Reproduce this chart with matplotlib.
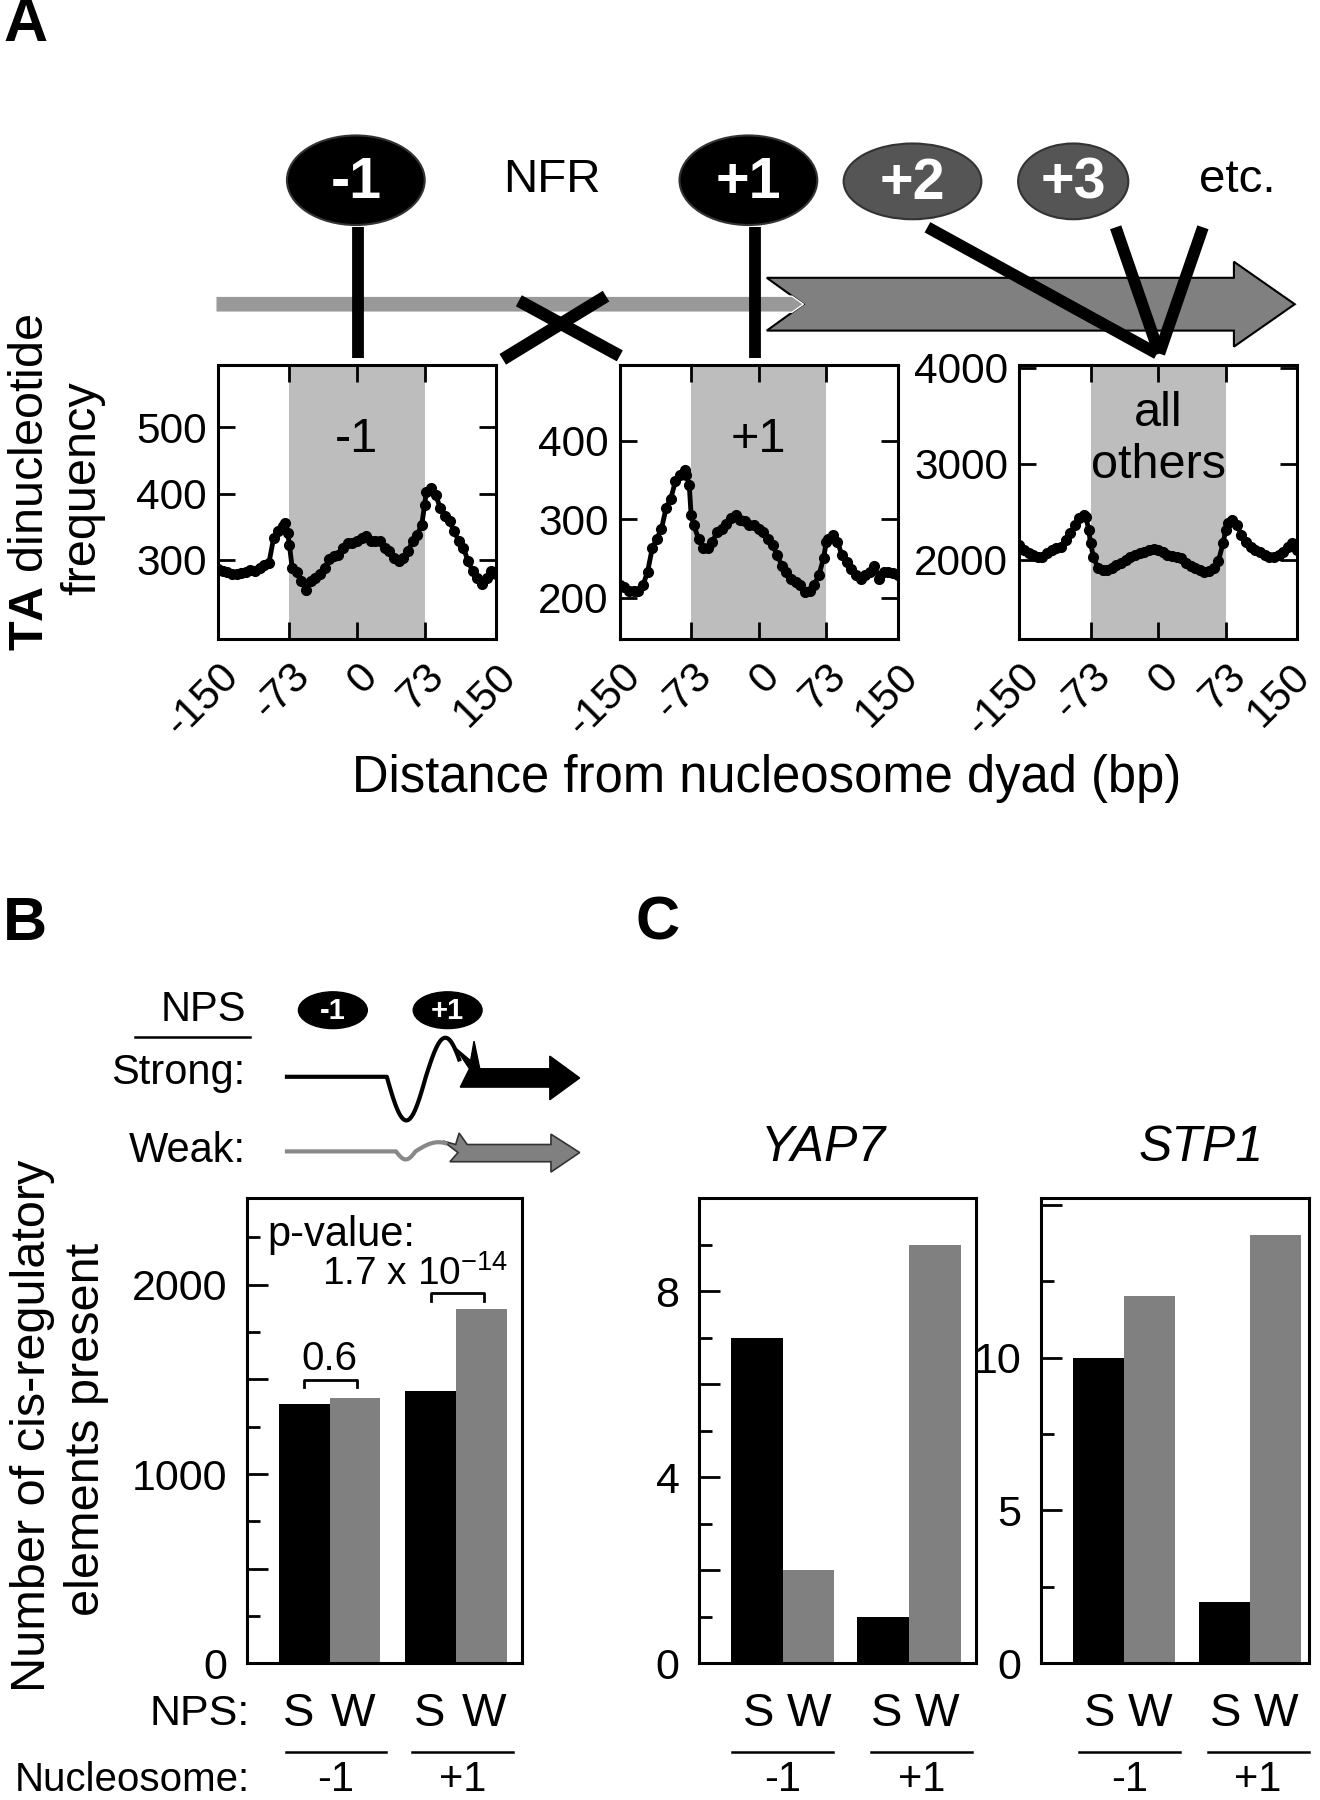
import matplotlib
matplotlib.use('Agg')
import matplotlib.pyplot as plt
import numpy as np
from matplotlib.patches import Ellipse, Polygon
from matplotlib.ticker import MultipleLocator, FuncFormatter
from matplotlib.transforms import ScaledTranslation
from matplotlib import font_manager

# ---------------- data ----------------
positions = [-150, -145, -140, -135, -130, -125, -120, -115, -110, -105, -100, -95, -90, -85,
             -80, -78, -75, -73, -70, -65, -60, -55, -50, -45, -40, -35, -30, -25, -20, -15,
             -10, -5, 0, 5, 10, 15, 20, 25, 30, 35, 40, 45, 50, 55, 60, 65, 70, 73, 75, 80,
             85, 90, 95, 100, 105, 110, 115, 120, 125, 130, 135, 140, 145, 150]
ta_minus1 = [286, 283, 281, 279, 278, 280, 282, 285, 283, 288, 293, 296, 333, 343,
             351, 356, 341, 323, 288, 281, 268, 255, 268, 273, 278, 288, 301, 306, 308, 318,
             326, 326, 328, 333, 336, 328, 328, 328, 318, 313, 303, 298, 303, 313, 328, 338,
             353, 383, 403, 408, 398, 378, 366, 358, 343, 328, 318, 298, 283, 273, 263, 273,
             283, 278]
ta_plus1 = [216, 214, 209, 209, 209, 216, 233, 263, 275, 288, 314, 326, 348, 356,
            363, 356, 343, 305, 292, 275, 263, 263, 271, 284, 288, 294, 301, 305, 299, 297,
            292, 292, 288, 284, 275, 267, 254, 241, 233, 224, 220, 216, 207, 209, 216, 229,
            250, 271, 275, 280, 271, 254, 246, 237, 229, 224, 229, 233, 241, 224, 233, 233,
            231, 229]
ta_others = [2155, 2103, 2069, 2052, 2034, 2034, 2069, 2103, 2121, 2138, 2207, 2276, 2362, 2431,
             2466, 2448, 2310, 2172, 2034, 1914, 1897, 1897, 1914, 1948, 1966, 2000, 2034, 2052,
             2069, 2086, 2103, 2110, 2097, 2076, 2052, 2041, 2034, 2017, 1966, 1938, 1914, 1890,
             1869, 1879, 1914, 1983, 2172, 2310, 2379, 2414, 2362, 2259, 2190, 2138, 2103, 2086,
             2052, 2034, 2028, 2052, 2086, 2138, 2172, 2103]
a_xticks = [-150, -73, 0, 73, 150]
a_titles = ['-1', '+1', 'all\nothers']
a_yticks = [[300, 400, 500], [200, 300, 400], [2000, 3000, 4000]]

b_groups = ['-1', '+1']
b_strong = [1370, 1440]
b_weak = [1400, 1870]
b_pvalues = ['0.6', '1.7 x 10$^{-14}$']

genes = ['YAP7', 'STP1']
yap7_strong = [7, 1]
yap7_weak = [2, 9]
stp1_strong = [10, 2]
stp1_weak = [12, 14]

# ---------------- fonts ----------------
names = {f.name for f in font_manager.fontManager.ttflist}
HAS_NARROW = 'Liberation Sans Narrow' in names
NARROW = ['Liberation Sans Narrow', 'Liberation Sans'] if HAS_NARROW else ['Liberation Sans']
NF = 1.0 if HAS_NARROW else 0.9

plt.rcParams['font.family'] = ['Liberation Sans', 'DejaVu Sans']
plt.rcParams['mathtext.fontset'] = 'custom'
plt.rcParams['mathtext.rm'] = 'Liberation Sans'
plt.rcParams['mathtext.it'] = 'Liberation Sans:italic'
plt.rcParams['mathtext.bf'] = 'Liberation Sans:bold'

W, H = 1150.0, 1568.0
fig = plt.figure(figsize=(13.2, 18), dpi=100)


def rect(x0, x1, y0, y1):
    return [x0 / W, 1 - y1 / H, (x1 - x0) / W, (y1 - y0) / H]


GRAY = '#808080'
SHADE = '#bdbdbd'

# ---------------- panel A plots ----------------
a_specs = [(190, 432, ta_minus1, (180, 594)),
           (540, 782, ta_plus1, (147, 496)),
           (888, 1130, ta_others, (1170, 4030))]
a_axes = []
for (x0, x1, vals, ylim), title, yt in zip(a_specs, a_titles, a_yticks):
    ax = fig.add_axes(rect(x0, x1, 318, 557))
    a_axes.append(ax)
    ax.axvspan(-73, 73, color=SHADE, lw=0, zorder=0)
    ax.plot(positions, vals, color='k', lw=3.5, marker='o', ms=7, zorder=3)
    ax.set_xlim(-150, 150)
    ax.set_ylim(*ylim)
    ax.set_xticks(a_xticks)
    ax.set_xticklabels([str(t) for t in a_xticks], rotation=45, ha='right',
                       rotation_mode='anchor')
    ax.set_yticks(yt)
    ax.tick_params(direction='in', length=12, width=2, labelsize=30.5, top=True, right=True,
                   pad=8)
    ax.tick_params(axis='x', pad=12)
    for s in ax.spines.values():
        s.set_linewidth(2.2)
    ax.text(0, 0.73, title, transform=ax.get_xaxis_transform(), ha='center', va='center',
            fontsize=35, linespacing=1.2)
# keep the last tick label of the right-most plot inside the figure
last = a_axes[-1].get_xticklabels()[-1]
last.set_transform(last.get_transform() + ScaledTranslation(-5 / 72, 0, fig.dpi_scale_trans))

# ---------------- panel B bars ----------------
axB = fig.add_axes(rect(215, 455, 1044, 1449))
cB = [1.64, 4.14]
axB.bar([c - 0.5 for c in cB], b_strong, width=1.0, color='k', lw=0)
axB.bar([c + 0.5 for c in cB], b_weak, width=1.0, color=GRAY, lw=0)
axB.set_xlim(0, 5.45)
axB.set_ylim(0, 2455)
axB.set_xticks([])
axB.yaxis.set_major_locator(MultipleLocator(500))
axB.yaxis.set_minor_locator(MultipleLocator(250))
axB.yaxis.set_major_formatter(FuncFormatter(lambda v, p: f'{int(v)}' if v % 1000 == 0 else ''))
axB.tick_params(axis='y', which='major', direction='in', length=15, width=2, labelsize=31, pad=14)
axB.tick_params(axis='y', which='minor', direction='in', length=9, width=2)
for s in axB.spines.values():
    s.set_linewidth(2.2)
# brackets
for c, top in zip(cB, [1497, 1955]):
    axB.plot([c - 0.5, c - 0.5, c + 0.55, c + 0.55], [top - 40, top, top, top - 40],
             color='k', lw=2)
axB.text(1.64, 1607, b_pvalues[0], ha='center', va='center', fontsize=29)
axB.text(3.32, 1997, b_pvalues[1], ha='center', va='baseline', fontsize=28)
axB.text(0.41, 2205, 'p-value:', ha='left', va='baseline', fontsize=30)

# ---------------- panel C bars ----------------
c_specs = [(609, 850, yap7_strong, yap7_weak, [1.62, 4.07], 5.36, 10.0, 2, 1, 4, 8),
           (907, 1140, stp1_strong, stp1_weak, [1.62, 4.09], 5.24, 15.2, 5, 2.5, 5, 10)]
title_x = [717, 1046]
for (x0, x1, sv, wv, cc, xmax, ymax, maj, mnr, lab, labmax), g, tx in zip(c_specs, genes,
                                                                          title_x):
    ax = fig.add_axes(rect(x0, x1, 1044, 1449))
    ax.bar([c - 0.5 for c in cc], sv, width=1.0, color='k', lw=0)
    ax.bar([c + 0.5 for c in cc], wv, width=1.0, color=GRAY, lw=0)
    ax.set_xlim(0, xmax)
    ax.set_ylim(0, ymax)
    ax.set_xticks([])
    ax.yaxis.set_major_locator(MultipleLocator(maj))
    ax.yaxis.set_minor_locator(MultipleLocator(mnr))
    ax.yaxis.set_major_formatter(FuncFormatter(
        lambda v, p, lab=lab, labmax=labmax: f'{int(round(v))}'
        if (abs(v / lab - round(v / lab)) < 1e-6 and v <= labmax + 1e-6) else ''))
    ax.tick_params(axis='y', which='major', direction='in', length=15, width=2, labelsize=31,
                   pad=14)
    ax.tick_params(axis='y', which='minor', direction='in', length=9, width=2)
    for s in ax.spines.values():
        s.set_linewidth(2.2)
    fig.text(tx / W, 1 - 1000 / H, g, fontsize=36, style='italic', ha='center', va='center')

# ---------------- overlay (schematics & labels) ----------------
ov = fig.add_axes([0, 0, 1, 1], zorder=10)
ov.set_xlim(0, W)
ov.set_ylim(H, 0)
ov.axis('off')
ov.patch.set_alpha(0)

# panel letters
for (x, y, s) in [(22, 22, 'A'), (22, 805, 'B'), (573, 805, 'C')]:
    ov.text(x, y, s, ha='center', va='center', fontsize=44, fontweight='bold')

# top schematic: big arrow and gray band
ov.add_patch(Polygon([(668, 242), (1075, 242), (1075, 228), (1128, 265), (1075, 302),
                      (1075, 288), (668, 288), (700, 265)], closed=True,
                     facecolor=GRAY, edgecolor='k', lw=1.5, zorder=2))
ov.add_patch(Polygon([(188, 258), (690, 258), (700, 265), (690, 272), (188, 272)], closed=True,
                     facecolor='#999999', edgecolor='white', lw=1, zorder=3))
# nucleosomes
for cx, cy, w, h, fc, lab in [(310, 157, 120, 78, 'k', '-1'), (652, 157, 120, 78, 'k', '+1'),
                              (795, 158, 120, 66, '#555555', '+2'),
                              (935, 158, 96, 66, '#555555', '+3')]:
    ov.add_patch(Ellipse((cx, cy), w, h, facecolor=fc, edgecolor='#333333', lw=1.5, zorder=4))
    ov.text(cx, cy + 2, lab, ha='center', va='center', color='white', fontweight='bold',
            fontsize=46 * NF, family=NARROW, zorder=5)
ov.text(481, 157, 'NFR', ha='center', va='center', fontsize=38 * NF, family=NARROW)
ov.text(1078, 157, 'etc.', ha='center', va='center', fontsize=38 * NF, family=NARROW)
# connector lines
LW = 8.5
ov.plot([312, 312], [198, 312], color='k', lw=LW, solid_capstyle='butt', zorder=6)
ov.plot([658, 658], [198, 312], color='k', lw=LW, solid_capstyle='butt', zorder=6)
ov.plot([452, 540], [262, 310], color='k', lw=9, solid_capstyle='butt', zorder=6)
ov.plot([438, 528], [313, 258], color='k', lw=9, solid_capstyle='butt', zorder=6)
ov.plot([808, 1008], [198, 308], color='k', lw=LW, solid_capstyle='butt', zorder=6)
ov.plot([972, 1010], [198, 308], color='k', lw=LW, solid_capstyle='butt', zorder=6)
ov.plot([1048, 1010], [198, 308], color='k', lw=LW, solid_capstyle='butt', zorder=6)

# axis labels panel A
ov.text(27, 420, r'$\bf{TA}$ dinucleotide', rotation=90, ha='center', va='center', fontsize=35)
ov.text(72, 425, 'frequency', rotation=90, ha='center', va='center', fontsize=35)
ov.text(668, 678, 'Distance from nucleosome dyad (bp)', ha='center', va='center', fontsize=36.5)

# panel B schematic
ov.text(214, 880, 'NPS', ha='right', va='center', fontsize=30)
ov.plot([118, 218], [903, 903], color='k', lw=1.8)
for cx, lab in [(290, '-1'), (390, '+1')]:
    ov.add_patch(Ellipse((cx, 880), 60, 32, facecolor='k', edgecolor='k'))
    ov.text(cx, 881, lab, ha='center', va='center', color='white', fontweight='bold',
            fontsize=21, family=NARROW)
ov.text(214, 935, 'Strong:', ha='right', va='center', fontsize=30)
ov.text(214, 1003, 'Weak:', ha='right', va='center', fontsize=30)
# strong curve
xs1 = np.linspace(337, 371, 40)
xs2 = np.linspace(371, 400, 40)
sx = np.concatenate([[250, 337], xs1, xs2])
sy = np.concatenate([[938, 938], 938 + 38 * np.sin(np.pi * (xs1 - 337) / 34),
                     938 - 34 * np.sin(np.pi * (xs2 - 371) / 34)])
ov.plot(sx, sy, color='k', lw=3)
ov.add_patch(Polygon([(401, 947), (409, 931), (397, 913), (410, 924), (413, 907), (418, 931),
                      (479, 931), (479, 920), (505, 939), (479, 958), (479, 947)], closed=True,
                     facecolor='k', edgecolor='k', lw=1))
# weak curve
wx1 = np.linspace(345, 362, 30)
wx2 = np.linspace(362, 388, 30)
wx = np.concatenate([[250, 345], wx1, wx2])
wy = np.concatenate([[1003, 1003], 1003 + 7 * np.sin(np.pi * (wx1 - 345) / 17),
                     1003 - 8 * np.sin(np.pi * (wx2 - 362) / 40)])
ov.plot(wx, wy, color='#888888', lw=3)
ov.add_patch(Polygon([(392, 1012), (399, 1004), (386, 994), (397, 997), (400, 987), (407, 997),
                      (480, 997), (480, 988), (505, 1004), (480, 1021), (480, 1012)],
                     closed=True, facecolor=GRAY, edgecolor='#333333', lw=1.2))

# panel B y label
ov.text(28, 1242, 'Number of cis-regulatory', rotation=90, ha='center', va='center',
        fontsize=35)
ov.text(75, 1245, 'elements present', rotation=90, ha='center', va='center', fontsize=35)

# bottom labels
ov.text(218, 1493, 'NPS:', ha='right', va='center', fontsize=31, family=NARROW)
ov.text(218, 1560, 'Nucleosome:', ha='right', va='baseline', fontsize=29, family=NARROW)
sw_x = [[260, 308, 374, 422], [661, 705, 772, 816], [958, 1002, 1068, 1112]]
ul = [[(249, 336), (359, 447)], [(638, 726), (759, 847)], [(940, 1028), (1052, 1140)]]
for xsw, lines in zip(sw_x, ul):
    for x, s in zip(xsw, ['S', 'W', 'S', 'W']):
        ov.text(x, 1493, s, ha='center', va='center', fontsize=34, family=NARROW)
    for (l0, l1), g in zip(lines, b_groups):
        ov.plot([l0, l1], [1526, 1526], color='k', lw=1.8)
        ov.text((l0 + l1) / 2, 1560, g, ha='center', va='baseline', fontsize=30,
                family=NARROW)

fig.savefig('out.png', dpi=100)
